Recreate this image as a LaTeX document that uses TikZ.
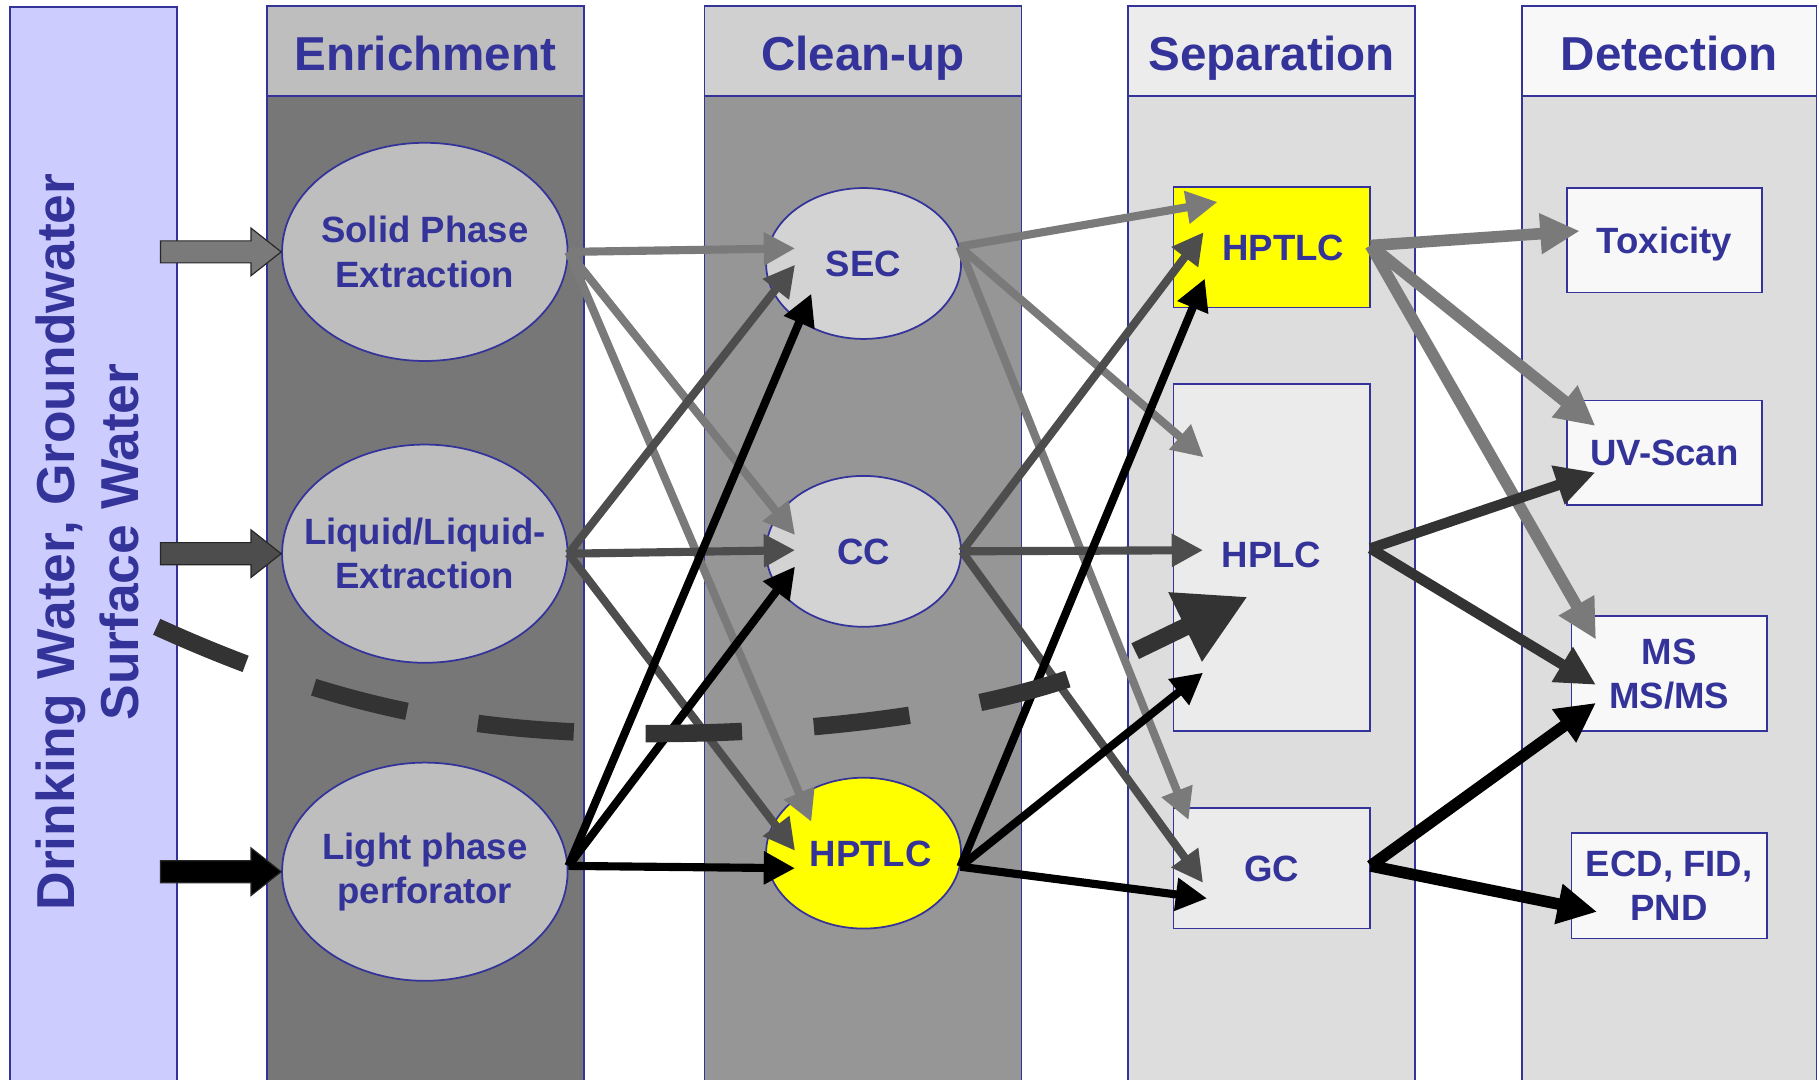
\documentclass[tikz,border=0pt]{standalone}
\usepackage{fontspec}
\setmainfont{Liberation Sans}
\usetikzlibrary{shapes.geometric,arrows.meta,calc}
\definecolor{tblue}{HTML}{333399}
\definecolor{cLeft}{HTML}{CCCCFF}
\definecolor{cEnrH}{HTML}{BEBEBE}
\definecolor{cEnrB}{HTML}{777777}
\definecolor{cClnH}{HTML}{D0D0D0}
\definecolor{cClnB}{HTML}{969696}
\definecolor{cSepH}{HTML}{ECECEC}
\definecolor{cSepB}{HTML}{DDDDDD}
\definecolor{cDetH}{HTML}{F8F8F8}
\definecolor{cEllA}{HTML}{BEBEBE}
\definecolor{cEllB}{HTML}{D3D3D3}
\definecolor{cBoxS}{HTML}{EBEBEB}
\definecolor{cBoxD}{HTML}{F8F8F8}
\definecolor{cLG}{HTML}{7A7A7A}
\definecolor{cMG}{HTML}{4D4D4D}
\definecolor{cDG}{HTML}{333333}
\definecolor{cYel}{HTML}{FFFF00}
\newcommand{\ttlfnt}{\bfseries\fontsize{41}{46}\selectfont}
\newcommand{\lblfnt}{\bfseries\fontsize{31.5}{38}\selectfont}
\newcommand{\srcfnt}{\bfseries\fontsize{46}{55}\selectfont}
\newcommand{\blkarr}[2]{%
  \filldraw[fill=#1, draw=black!85, line width=1pt]
    ($(#2)+(-104,-9.5)$) -- ($(#2)+(-26,-9.5)$) -- ($(#2)+(-26,-20.5)$) -- (#2)
    -- ($(#2)+(-26,20.5)$) -- ($(#2)+(-26,9.5)$) -- ($(#2)+(-104,9.5)$) -- cycle;}
\tikzset{
  bline/.style={draw=tblue, line width=1.5pt},
  hdr/.style={bline, minimum height=78pt, inner sep=0pt, text=tblue, font=\ttlfnt,
    text height=38pt, text depth=4pt},
  ellA/.style={ellipse, bline, fill=cEllA, minimum width=246pt, minimum height=188pt,
    inner xsep=-40pt, inner ysep=-20pt, align=center, text=tblue, font=\lblfnt},
  ellB/.style={ellipse, bline, minimum width=168pt, minimum height=130pt,
    inner xsep=-30pt, inner ysep=-10pt, align=center, text=tblue, font=\lblfnt},
  sbox/.style={rectangle, bline, minimum width=169pt, inner sep=0pt, align=center,
    text=tblue, font=\lblfnt},
  oneline/.style={text height=22.6pt, text depth=0pt},
  conn/.style={line width=7pt, -{Triangle[length=27pt,width=27pt]}},
  connT/.style={line width=10pt, -{Triangle[length=34pt,width=33pt]}},
}
\begin{document}
\begin{tikzpicture}[x=1pt,y=-1pt]
\useasboundingbox (0,0) rectangle (1568,930);
\clip (0,0) rectangle (1568,930);
\fill[white] (0,0) rectangle (1568,930);
% source column
\node[bline, fill=cLeft, minimum width=144pt, minimum height=940pt, inner sep=0pt,
  anchor=north west] (src) at (8,5) {};
\node[rotate=90, align=center, text=tblue, font=\srcfnt] (srclbl) at (75,467)
  {Drinking Water, Groundwater\\Surface Water};
% column bodies
\draw[bline, fill=cEnrB] (230,83) rectangle (503,945);
\draw[bline, fill=cClnB] (607,83) rectangle (880,945);
\draw[bline, fill=cSepB] (972,83) rectangle (1219,945);
\draw[bline, fill=cSepB] (1311,83) rectangle (1565,945);
% headers
\node[hdr, fill=cEnrH, minimum width=273pt] (henr) at (366.5,44) {Enrichment};
\node[hdr, fill=cClnH, minimum width=273pt] (hcln) at (743.5,44) {Clean-up};
\node[hdr, fill=cSepH, minimum width=247pt] (hsep) at (1095.5,44) {Separation};
\node[hdr, fill=cDetH, minimum width=254pt] (hdet) at (1438,44) {Detection};
% enrichment
\node[ellA] (spe) at (366,217) {Solid Phase\\Extraction};
\node[ellA] (lle) at (366,477) {Liquid/Liquid-\\Extraction};
\node[ellA] (lpp) at (366,751) {Light phase\\perforator};
% clean-up
\node[ellB, oneline, fill=cEllB] (sec) at (744,227) {SEC};
\node[ellB, oneline, fill=cEllB] (cc) at (744,475) {CC};
\node[ellB, oneline, fill=cYel] (he) at (744,735) {\hspace*{12pt}HPTLC};
% separation
\node[sbox, oneline, fill=cYel, minimum height=104pt] (hs) at (1095.5,213) {\hspace*{20pt}HPTLC};
\node[sbox, fill=cBoxS, minimum height=299pt] (hplc) at (1095.5,480.5) {\raisebox{6pt}{HPLC}};
\node[sbox, oneline, fill=cBoxS, minimum height=104pt] (gc) at (1095.5,748) {GC};
% detection
\node[sbox, oneline, fill=cBoxD, minimum width=168pt, minimum height=90pt] (tox) at (1434,207) {Toxicity};
\node[sbox, oneline, fill=cBoxD, minimum width=168pt, minimum height=90pt] (uv) at (1434,390) {UV-Scan};
\node[sbox, fill=cBoxD, minimum width=168pt, minimum height=99pt] (ms) at (1438,580.5) {MS\\MS/MS};
\node[sbox, fill=cBoxD, minimum width=168pt, minimum height=91pt] (ecd) at (1438,763) {ECD, FID,\\PND};
% block arrows
\blkarr{cLG}{spe.west}
\blkarr{cMG}{lle.west}
\blkarr{black}{lpp.west}
% enrichment -> clean-up
\draw[conn, cLG] (spe.east) -- ($(sec.center)+(-59,-13)$);
\draw[conn, cLG] (spe.east) -- ($(cc.center)+(-59,-14)$);
\draw[conn, cLG] (spe.east) -- ($(he.center)+(-45,-27)$);
\draw[conn, cMG] (lle.east) -- ($(sec.center)+(-59,1)$);
\draw[conn, cMG] (lle.east) -- ($(cc.center)+(-59,-1)$);
\draw[conn, cMG] (lle.east) -- ($(he.center)+(-59,-2)$);
\draw[conn, black] ($(lpp.east)+(0,-5)$) -- ($(sec.center)+(-45,26)$);
\draw[conn, black] ($(lpp.east)+(0,-5)$) -- ($(cc.center)+(-59,13)$);
\draw[conn, black] ($(lpp.east)+(0,-5)$) -- ($(he.center)+(-59,13)$);
% clean-up -> separation
\draw[conn, cLG] (sec.10) -- ($(hs.center)+(-46.5,-39)$);
\draw[conn, cLG] (sec.10) -- ($(hplc.center)+(-58.5,-86.5)$);
\draw[conn, cLG] (sec.10) -- ($(gc.center)+(-71.5,-41.5)$);
\draw[conn, cMG] (cc.east) -- ($(hs.center)+(-58.5,-13)$);
\draw[conn, cMG] (cc.east) -- ($(hplc.center)+(-59,-6.5)$);
\draw[conn, cMG] (cc.east) -- ($(gc.center)+(-59,12.6)$);
\draw[conn, black] (he.-8) -- ($(hs.center)+(-57.5,27)$);
\draw[conn, black] (he.-8) -- ($(hplc.center)+(-59,99)$);
\draw[conn, black] (he.-8) -- ($(gc.center)+(-55.5,26)$);
% separation -> detection
\draw[connT, cLG] ($(hs.east)+(0,-1.5)$) -- ($(tox.center)+(-73,-8)$);
\draw[connT, cLG] ($(hs.east)+(0,-1.5)$) -- ($(uv.center)+(-59.5,-23)$);
\draw[connT, cLG] ($(hs.east)+(0,-1.5)$) -- ($(ms.center)+(-63,-29.5)$);
\draw[connT, cDG, line width=9pt] ($(hplc.east)+(0,-8)$) -- ($(uv.center)+(-59.5,17)$);
\draw[connT, cDG, line width=9pt] ($(hplc.east)+(0,-8)$) -- ($(ms.center)+(-63,9.5)$);
\draw[connT, black] ($(gc.east)+(0,-2)$) -- ($(ms.center)+(-63,25)$);
\draw[connT, black] ($(gc.east)+(0,-2)$) -- ($(ecd.center)+(-62,22.6)$);
% dashed trend line
\coordinate (dA) at (135,540);
\coordinate (dB) at (560,632);
\coordinate (dC) at (920,585);
\coordinate (dD) at (978,561);
\coordinate (dE) at (1075,514);
\draw[cDG, line width=15pt, dash pattern=on 83pt off 62pt]
  (dA) .. controls (300,615) and (420,632) .. (dB)
       .. controls (700,632) and (830,615) .. (dC);
\draw[cDG, line width=15pt, -{Triangle[length=60pt,width=62pt]}] (dD) -- (dE);
\end{tikzpicture}
\end{document}
